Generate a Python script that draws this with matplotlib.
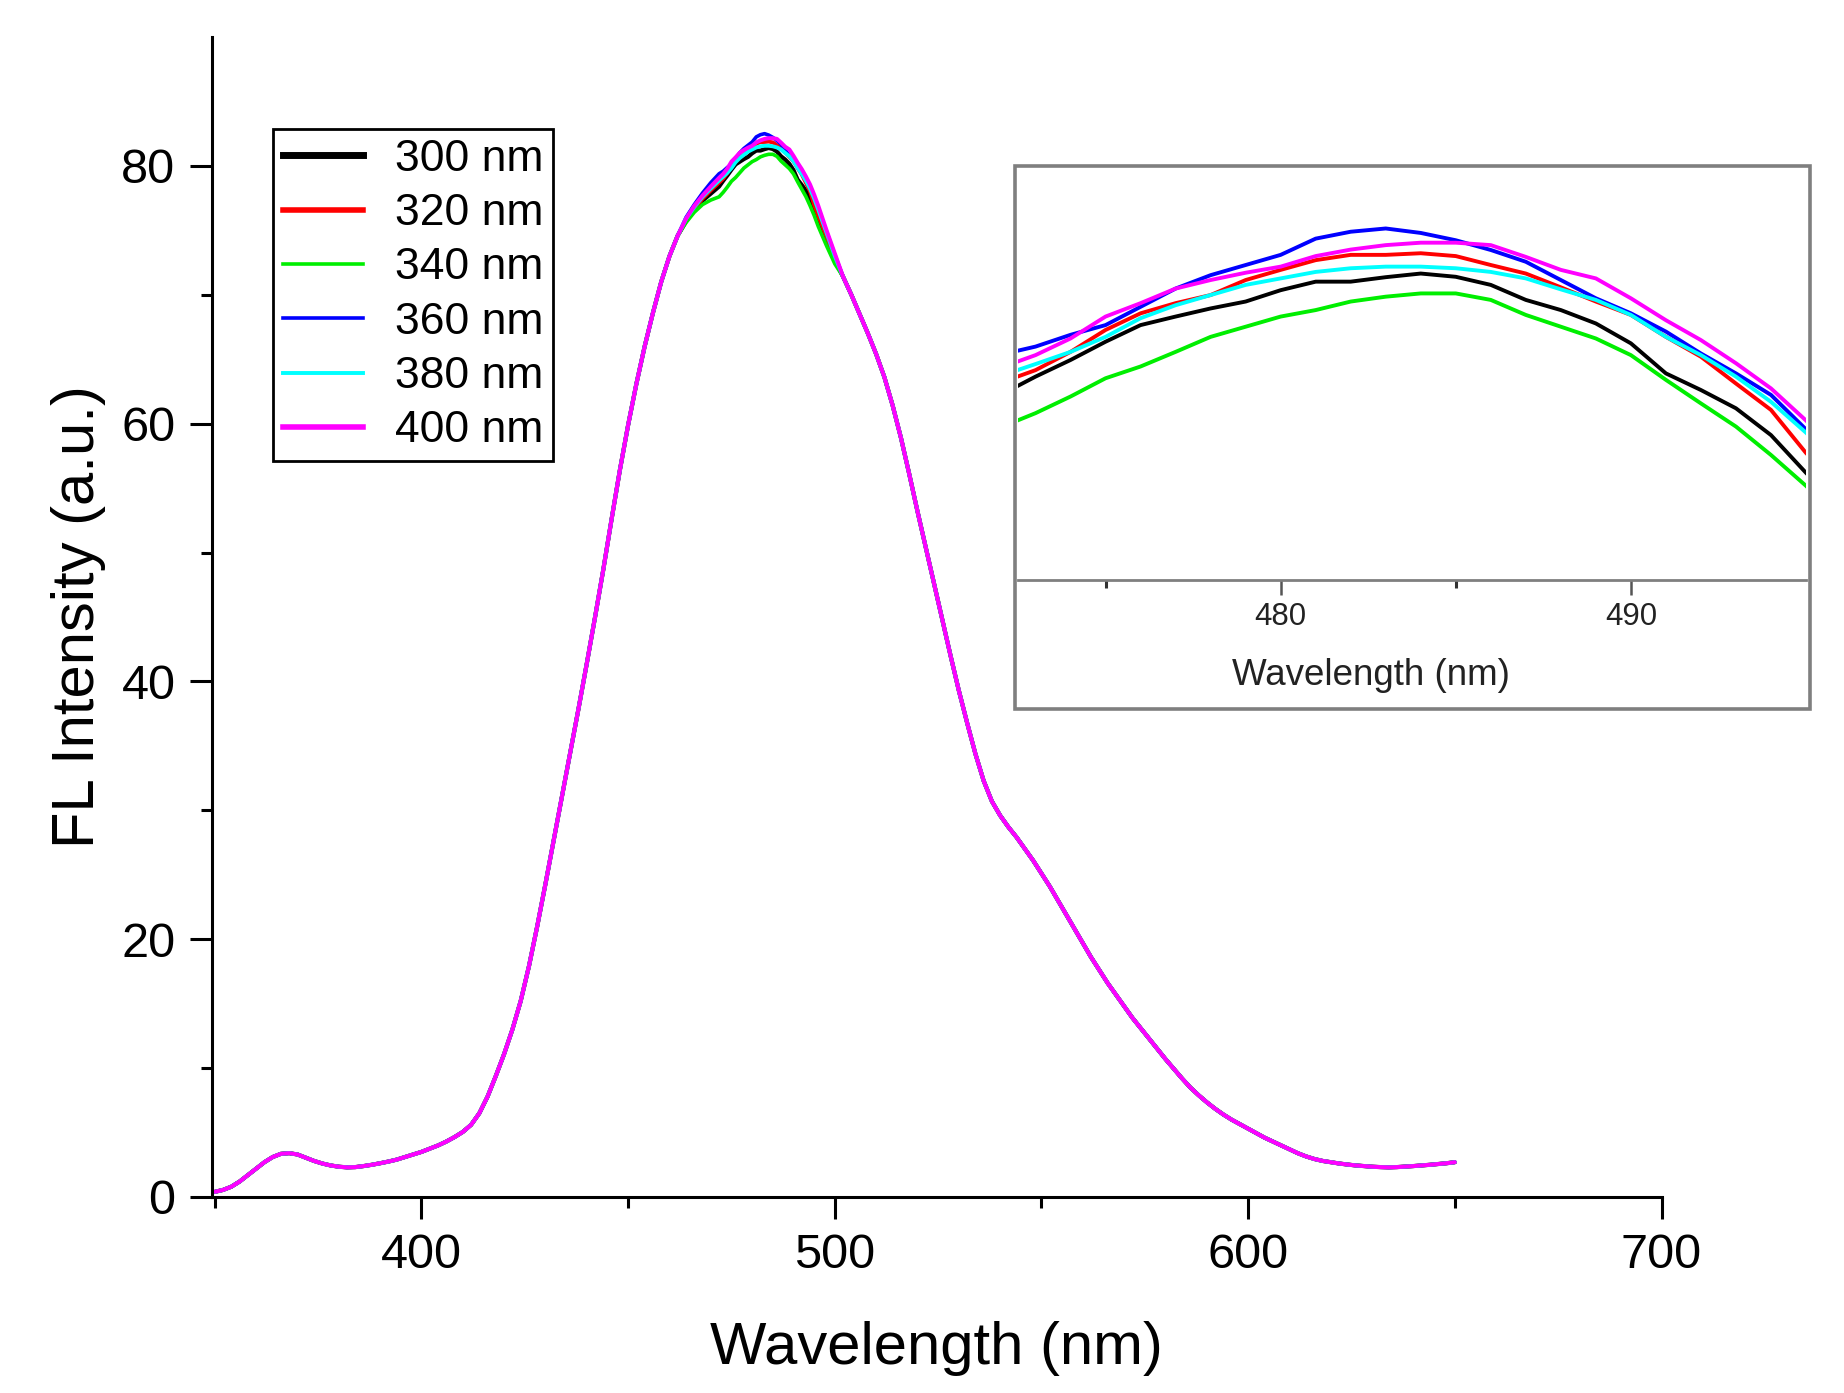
import matplotlib
matplotlib.use('Agg')
import matplotlib.pyplot as plt
from matplotlib.lines import Line2D
from matplotlib.patches import Rectangle

plt.rcParams['font.family'] = ['Liberation Sans', 'DejaVu Sans']

# ---------------- data ----------------
labels = ['300 nm', '320 nm', '340 nm', '360 nm', '380 nm', '400 nm']
colors = ['#000000', '#ff0000', '#00ee00', '#0000ff', '#00ffff', '#ff00ff']

# shared rising flank (all excitation wavelengths overlap here)
wl_rise = [350, 352, 354, 356, 358, 360, 362, 364, 366, 368, 370, 372, 374, 376,
           378, 380, 382, 384, 386, 388, 390, 392, 394, 396, 398, 400, 402, 404,
           406, 408, 410, 412, 414, 416, 418, 420, 422, 424, 426, 428, 430, 432,
           434, 436, 438, 440, 442, 444, 446, 448, 450, 452, 454, 456, 458, 460,
           462]
base_rise = [0.4, 0.55, 0.8, 1.2, 1.7, 2.2, 2.7, 3.1, 3.35, 3.4, 3.3, 3.05, 2.8,
             2.6, 2.45, 2.35, 2.3, 2.32, 2.4, 2.5, 2.62, 2.75, 2.9, 3.1, 3.3, 3.5,
             3.75, 4.0, 4.3, 4.65, 5.05, 5.6, 6.5, 7.8, 9.4, 11.1, 13.0, 15.2,
             17.9, 21.0, 24.3, 27.7, 31.1, 34.5, 37.9, 41.4, 45.0, 48.7, 52.6,
             56.4, 59.9, 63.1, 66.0, 68.6, 71.0, 73.0, 74.6]

# peak region, per series
wl_peak = [464, 466, 468, 470, 472, 473, 474, 475, 476, 477, 478, 479, 480, 481,
           482, 483, 484, 485, 486, 487, 488, 489, 490, 491, 492, 493, 494, 495,
           496, 498, 500]
peak_300 = [75.7, 76.6, 77.3, 77.85, 78.40, 78.85, 79.26, 79.71, 80.12, 80.33,
            80.53, 80.70, 80.98, 81.19, 81.19, 81.30, 81.39, 81.31, 81.11, 80.74,
            80.49, 80.16, 79.67, 78.93, 78.52, 78.07, 77.41, 76.48, 75.6, 74.1, 72.7]
peak_320 = [75.8, 76.7, 77.45, 78.1, 78.70, 79.01, 79.46, 80.00, 80.41, 80.66,
            80.86, 81.23, 81.48, 81.72, 81.85, 81.85, 81.89, 81.82, 81.60, 81.39,
            81.05, 80.70, 80.37, 79.83, 79.34, 78.68, 78.03, 76.97, 76.1, 74.5, 72.9]
peak_340 = [75.6, 76.4, 77.0, 77.35, 77.60, 77.95, 78.36, 78.81, 79.10, 79.46,
            79.83, 80.08, 80.33, 80.49, 80.70, 80.82, 80.90, 80.90, 80.74, 80.37,
            80.08, 79.79, 79.38, 78.77, 78.19, 77.62, 76.92, 76.16, 75.3, 73.8, 72.4]
peak_360 = [76.0, 77.0, 77.9, 78.7, 79.39, 79.59, 79.88, 80.12, 80.57, 81.02,
            81.35, 81.60, 81.85, 82.25, 82.42, 82.50, 82.39, 82.21, 81.97, 81.68,
            81.23, 80.78, 80.41, 79.96, 79.42, 78.93, 78.40, 77.55, 76.7, 74.9, 73.1]
peak_380 = [75.9, 76.8, 77.6, 78.25, 78.87, 79.16, 79.46, 79.83, 80.29, 80.61,
            80.86, 81.11, 81.27, 81.43, 81.52, 81.56, 81.56, 81.52, 81.43, 81.27,
            81.00, 80.74, 80.37, 79.83, 79.38, 78.85, 78.23, 77.47, 76.6, 74.8, 73.0]
peak_400 = [75.9, 76.9, 77.7, 78.4, 79.07, 79.38, 79.79, 80.33, 80.66, 81.02,
            81.23, 81.41, 81.56, 81.82, 81.98, 82.09, 82.15, 82.15, 82.09, 81.80,
            81.48, 81.27, 80.78, 80.24, 79.75, 79.18, 78.56, 77.77, 76.9, 75.0, 73.2]

# shared falling flank and tail
wl_fall = [502, 504, 506, 508, 510, 512, 514, 516, 518, 520, 522, 524, 526, 528,
           530, 532, 534, 536, 538, 540, 542, 544, 546, 548, 550, 552, 554, 556,
           558, 560, 562, 564, 566, 568, 570, 572, 574, 576, 578, 580, 582, 584,
           586, 588, 590, 592, 594, 596, 598, 600, 602, 604, 606, 608, 610, 612,
           614, 616, 618, 620, 622, 624, 626, 628, 630, 632, 634, 636, 638, 640,
           642, 644, 646, 648, 650]
base_fall = [71.4, 70.0, 68.5, 67.0, 65.4, 63.6, 61.4, 58.9, 56.1, 53.2, 50.4,
             47.6, 44.8, 42.0, 39.3, 36.8, 34.4, 32.3, 30.7, 29.6, 28.7, 27.9,
             27.0, 26.1, 25.1, 24.1, 23.0, 21.9, 20.8, 19.7, 18.6, 17.6, 16.6,
             15.7, 14.8, 13.9, 13.1, 12.3, 11.5, 10.7, 9.95, 9.2, 8.5, 7.9, 7.35,
             6.85, 6.4, 6.0, 5.65, 5.3, 4.95, 4.6, 4.3, 4.0, 3.7, 3.4, 3.15, 2.95,
             2.8, 2.7, 2.6, 2.52, 2.45, 2.4, 2.35, 2.32, 2.3, 2.32, 2.36, 2.4,
             2.45, 2.5, 2.56, 2.62, 2.7]

peaks = [peak_300, peak_320, peak_340, peak_360, peak_380, peak_400]
plot_lw = [3.0, 2.8, 2.6, 2.6, 2.8, 2.9]
legend_lw = [5.0, 4.0, 2.6, 2.6, 2.8, 4.0]

main_xticks = [400, 500, 600, 700]
main_xminor = [350, 450, 550, 650]
main_yticks = [0, 20, 40, 60, 80]
main_yminor = [10, 30, 50, 70]
inset_xticks = [480, 490]
inset_xminor = [475, 485]

# ---------------- figure ----------------
W, H = 1844, 1393
fig = plt.figure(figsize=(W / 100, H / 100), dpi=100)
fig.patch.set_facecolor('white')

L, R, T, B = 211.5, 1661.5, 37, 1197
ax = fig.add_axes([L / W, 1 - B / H, (R - L) / W, (B - T) / H])

wl_all = wl_rise + wl_peak + wl_fall
for pk, c, lw in zip(peaks, colors, plot_lw):
    ax.plot(wl_all, base_rise + pk + base_fall, color=c, lw=lw,
            solid_joinstyle='round', solid_capstyle='round')

ax.set_xlim(349.2, 700)
ax.set_ylim(0, 90)
for s in ['top', 'right']:
    ax.spines[s].set_visible(False)
for s in ['left', 'bottom']:
    ax.spines[s].set_linewidth(2.2)
ax.set_xticks(main_xticks)
ax.set_xticks(main_xminor, minor=True)
ax.set_yticks(main_yticks)
ax.set_yticks(main_yminor, minor=True)
ax.tick_params(which='major', length=16, width=2.2, labelsize=35, direction='out')
ax.tick_params(axis='x', which='major', pad=10)
ax.tick_params(axis='y', which='major', pad=10)
ax.tick_params(which='minor', length=8, width=2.2, direction='out')

ax.set_xlabel('Wavelength (nm)', fontsize=43)
ax.xaxis.set_label_coords(0.5, -0.107)
ax.set_ylabel('FL Intensity (a.u.)', fontsize=43)
ax.yaxis.set_label_coords(-0.0726, 0.5)

handles = [Line2D([], [], color=c, lw=lw) for c, lw in zip(colors, legend_lw)]
leg = fig.legend(handles, labels, loc='upper left',
                 bbox_to_anchor=(273 / W, 1 - 129 / H),
                 bbox_transform=fig.transFigure, fontsize=32, frameon=True,
                 fancybox=False, framealpha=1, edgecolor='black',
                 borderaxespad=0, borderpad=0.22, labelspacing=0.3,
                 handlelength=1.8, handletextpad=0.72)
leg.get_frame().set_linewidth(2.0)

# ---------------- inset ----------------
frame = Rectangle((1015 / W, 1 - 709 / H), 795 / W, 543 / H,
                  transform=fig.transFigure, facecolor='white',
                  edgecolor='#7f7f7f', lw=2.6, zorder=2)
fig.add_artist(frame)

iL, iR, iT, iB = 1018, 1806, 168, 580
iax = fig.add_axes([iL / W, 1 - iB / H, (iR - iL) / W, (iB - iT) / H])
iax.set_zorder(3)
iax.patch.set_alpha(0)
for pk, c in zip(peaks, colors):
    iax.plot(wl_peak, pk, color=c, lw=2.8, solid_joinstyle='round')
iax.set_xlim(472.5, 495.0)
iax.set_ylim(73.84, 83.99)
for s in ['top', 'left', 'right']:
    iax.spines[s].set_visible(False)
iax.spines['bottom'].set_color('#7f7f7f')
iax.spines['bottom'].set_linewidth(2.0)
iax.set_yticks([])
iax.set_xticks(inset_xticks)
iax.set_xticks(inset_xminor, minor=True)
iax.tick_params(which='major', length=11, width=1.8, color='#555555',
                labelsize=22.5, pad=5, labelcolor='#222222')
iax.tick_params(which='minor', length=6, width=2.2, color='#333333')
iax.set_xlabel('Wavelength (nm)', fontsize=26.5, color='#222222')
iax.xaxis.label.set_verticalalignment('center')
iax.xaxis.set_label_coords(0.448, -0.233)

fig.savefig('out.png', dpi=100, facecolor='white')
